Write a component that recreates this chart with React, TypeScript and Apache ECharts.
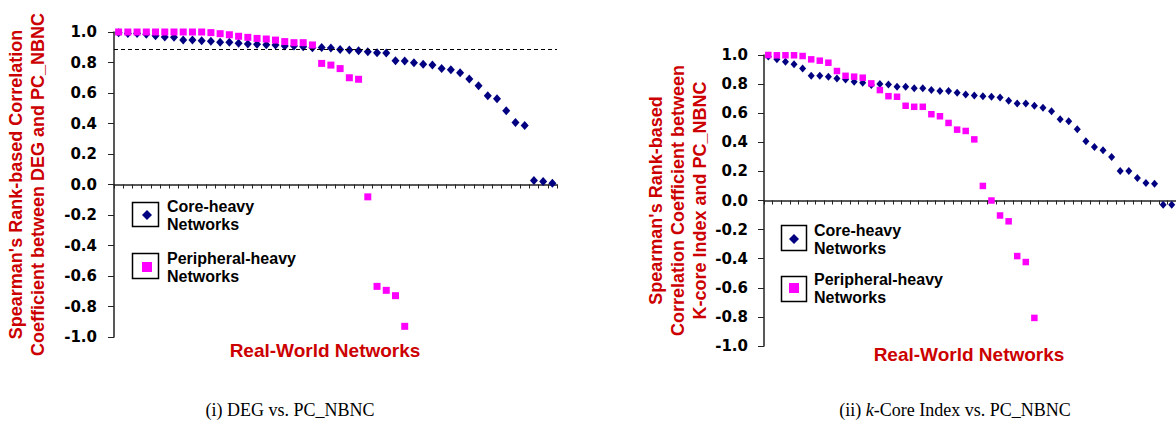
import React, { useEffect, useRef } from "react";
import * as echarts from "echarts";

const categories = Array.from({ length: 48 }, (_, i) => `Network ${i + 1}`);

const CORE = "Core-heavy Networks";
const PERI = "Peripheral-heavy Networks";
const X_TITLE = "Real-World Networks";

// (i) DEG vs. PC_NBNC
const degCore = [
  0.995, 0.99, 0.99, 0.985, 0.976, 0.967, 0.965, 0.947, 0.947, 0.943,
  0.939, 0.932, 0.932, 0.926, 0.921, 0.919, 0.917, 0.915, 0.908, 0.908,
  0.904, 0.897, 0.899, 0.895, 0.886, 0.882, 0.877, 0.871, 0.864, 0.862,
  0.812, 0.81, 0.799, 0.788, 0.783, 0.761, 0.753, 0.733, 0.691, 0.648,
  0.582, 0.562, 0.484, 0.407, 0.387, 0.026, 0.02, 0.009,
];
const degPeri = [
  1, 1, 1, 1, 1, 1, 1, 1, 1, 1,
  0.996, 0.989, 0.982, 0.972, 0.965, 0.958, 0.954, 0.947, 0.937, 0.93,
  0.93, 0.915, 0.794, 0.783, 0.76, 0.7, 0.69, -0.081, -0.668, -0.694,
  -0.729, -0.93,
];
const degThreshold = 0.89;

// (ii) k-Core Index vs. PC_NBNC
const kcoreCore = [
  0.989, 0.97, 0.954, 0.936, 0.908, 0.857, 0.857, 0.851, 0.839, 0.832,
  0.816, 0.809, 0.793, 0.8, 0.798, 0.782, 0.782, 0.772, 0.772, 0.759,
  0.752, 0.752, 0.74, 0.729, 0.722, 0.717, 0.713, 0.708, 0.685, 0.667,
  0.667, 0.651, 0.637, 0.614, 0.559, 0.545, 0.49, 0.407, 0.368, 0.345,
  0.299, 0.202, 0.202, 0.154, 0.12, 0.115, -0.03, -0.03,
];
const kcorePeri = [
  1.0, 0.998, 0.998, 0.998, 0.993, 0.97, 0.961, 0.947, 0.89, 0.857,
  0.851, 0.844, 0.805, 0.759, 0.717, 0.713, 0.651, 0.644, 0.644, 0.593,
  0.579, 0.533, 0.487, 0.478, 0.42, 0.1, 0.0, -0.103, -0.143, -0.382,
  -0.423, -0.807,
];

const RED = "#CC0000";
const NAVY = "#000080";
const MAGENTA = "#FF00FF";
const AXIS = "#222";

const tickLabel = {
  formatter: (v: number) => v.toFixed(1),
  fontFamily: "DejaVu Sans",
  fontWeight: "bold",
  fontSize: 15,
  color: "#000",
};

const titleStyle = {
  fontFamily: "Liberation Sans",
  fontWeight: "bold",
  fontSize: 18,
  lineHeight: 22,
  color: RED,
};

function xAxisFor(gridIndex: number) {
  return {
    type: "category",
    gridIndex,
    data: categories,
    boundaryGap: true,
    axisLine: { onZero: true, lineStyle: { color: AXIS, width: 1.5 } },
    axisTick: { show: true, interval: 0, length: 4, lineStyle: { color: AXIS, width: 1 } },
    axisLabel: { show: false },
    splitLine: { show: false },
  };
}

function yAxisFor(gridIndex: number, name: string, nameGap: number, margin: number) {
  return {
    type: "value",
    gridIndex,
    min: -1,
    max: 1,
    interval: 0.2,
    axisLine: { show: true, lineStyle: { color: AXIS, width: 1.5 } },
    axisTick: { show: true, length: 6, lineStyle: { color: AXIS, width: 1 } },
    axisLabel: { ...tickLabel, margin },
    splitLine: { show: false },
    name,
    nameLocation: "middle",
    nameRotate: 90,
    nameGap,
    nameTextStyle: titleStyle,
  };
}

function legendFor(left: number, top: number, itemGap: number) {
  return {
    left,
    top,
    padding: 0,
    orient: "vertical",
    itemWidth: 10,
    itemHeight: 10,
    itemGap,
    selectedMode: false,
    data: [
      { name: CORE, icon: "diamond" },
      { name: PERI, icon: "rect" },
    ],
    formatter: (n: string) => n.replace(" ", "\n"),
    textStyle: {
      fontFamily: "Liberation Sans",
      fontWeight: "bold",
      fontSize: 16,
      lineHeight: 18,
      color: "#000",
      padding: [0, 0, 0, 10],
    },
  };
}

const boxStyle = { fill: "none", stroke: "#000", lineWidth: 1.5 };

function xTitle(x: number, y: number) {
  return {
    type: "text",
    x,
    y,
    style: {
      text: X_TITLE,
      fontFamily: "Liberation Sans",
      fontWeight: "bold",
      fontSize: 19,
      fill: RED,
      textAlign: "center",
      textVerticalAlign: "middle",
    },
  };
}

export default function App() {
  const ref = useRef<HTMLDivElement>(null);

  useEffect(() => {
    if (!ref.current) return;
    const chart = echarts.init(ref.current, undefined, { renderer: "svg" });
    const option = {
      animation: false,
      backgroundColor: "#fff",
      grid: [
        { left: 114, top: 32, width: 443, height: 305, outerBoundsMode: "none", containLabel: false },
        { left: 764, top: 55, width: 412, height: 291, outerBoundsMode: "none", containLabel: false },
      ],
      xAxis: [xAxisFor(0), xAxisFor(1)],
      yAxis: [
        yAxisFor(0, "Spearman's Rank-based Correlation\nCoefficient between DEG and PC_NBNC", 65, 17),
        yAxisFor(
          1,
          "Spearman's Rank-based\nCorrelation Coefficient between\nK-core Index and PC_NBNC",
          52,
          16
        ),
      ],
      legend: [legendFor(142, 197, 16), legendFor(789, 221, 13)],
      series: [
        {
          name: CORE,
          type: "scatter",
          xAxisIndex: 0,
          yAxisIndex: 0,
          symbol: "diamond",
          symbolSize: [8, 9],
          itemStyle: { color: NAVY, opacity: 1 },
          data: degCore,
          markLine: {
            silent: true,
            symbol: "none",
            label: { show: false },
            lineStyle: { color: "#000", type: [4, 3], width: 1 },
            data: [{ yAxis: degThreshold }],
          },
        },
        {
          name: PERI,
          type: "scatter",
          xAxisIndex: 0,
          yAxisIndex: 0,
          symbol: "rect",
          symbolSize: 7,
          itemStyle: { color: MAGENTA, opacity: 1 },
          data: degPeri,
        },
        {
          name: CORE,
          type: "scatter",
          xAxisIndex: 1,
          yAxisIndex: 1,
          symbol: "diamond",
          symbolSize: [7, 8],
          itemStyle: { color: NAVY, opacity: 1 },
          data: kcoreCore,
        },
        {
          name: PERI,
          type: "scatter",
          xAxisIndex: 1,
          yAxisIndex: 1,
          symbol: "rect",
          symbolSize: 6.5,
          itemStyle: { color: MAGENTA, opacity: 1 },
          data: kcorePeri,
        },
      ],
      graphic: [
        { type: "rect", shape: { x: 132.5, y: 202.5, width: 26, height: 24 }, style: boxStyle },
        { type: "rect", shape: { x: 132.5, y: 253.5, width: 26, height: 25 }, style: boxStyle },
        { type: "rect", shape: { x: 781.5, y: 225.5, width: 25, height: 25 }, style: boxStyle },
        { type: "rect", shape: { x: 781.5, y: 276.5, width: 25, height: 25 }, style: boxStyle },
        xTitle(325, 350),
        xTitle(969, 354),
        {
          type: "text",
          x: 290,
          y: 410,
          style: {
            text: "(i) DEG vs. PC_NBNC",
            fontFamily: "Liberation Serif",
            fontSize: 18,
            fill: "#000",
            textAlign: "center",
            textVerticalAlign: "middle",
          },
        },
        {
          type: "text",
          x: 955,
          y: 410,
          style: {
            text: "{n|(ii) }{i|k}{n|-Core Index vs. PC_NBNC}",
            rich: {
              n: { fontFamily: "Liberation Serif", fontSize: 18, fill: "#000" },
              i: { fontFamily: "Liberation Serif", fontSize: 18, fontStyle: "italic", fill: "#000" },
            },
            textAlign: "center",
            textVerticalAlign: "middle",
          },
        },
      ],
    };
    chart.setOption(option as any);
    return () => chart.dispose();
  }, []);

  return (
    <div
      ref={ref}
      style={{ position: "absolute", left: 0, top: 0, width: 1176, height: 428 }}
    />
  );
}
